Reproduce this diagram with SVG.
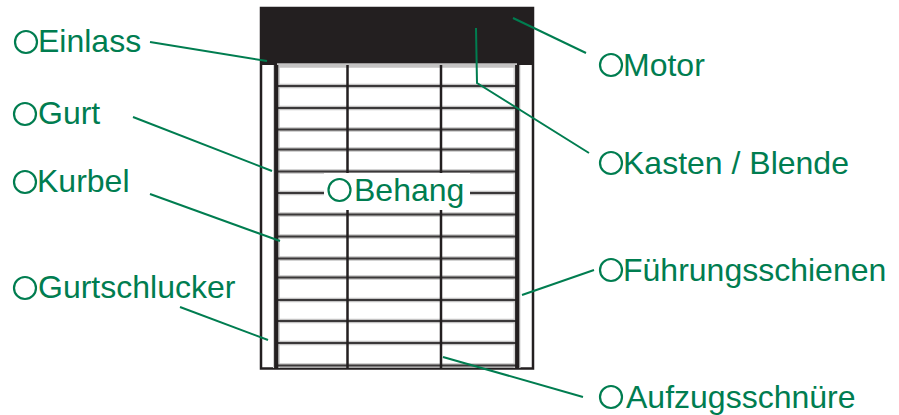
<svg xmlns="http://www.w3.org/2000/svg" width="899" height="415" viewBox="0 0 899 415">
<style>
.t{font-family:"Liberation Sans",Arial,sans-serif;font-size:32px;fill:#007d50}
.c{fill:none;stroke:#007d50;stroke-width:2.2}
.l{fill:none;stroke:#007d50;stroke-width:2}
.s{stroke:#231f20;fill:none}
.h{stroke:#3a3839;stroke-width:2;fill:none}
.hb{stroke:#c4c3c3;stroke-width:4.500;fill:none}
</style>
<rect width="899" height="415" fill="#fff"/>
<g id="frame">
<rect x="261" y="8" width="272" height="360.500" fill="#fff" stroke="#231f20" stroke-width="2.500"/>
<rect x="260" y="7" width="274" height="58" fill="#231f20"/>
<path stroke="#d4d4d4" stroke-width="7" d="M276.500 65V368M517 65V368" fill="none"/>
<g id="slats">
<path class="hb" d="M277 86H517M277 108H517M277 129.500H517M277 149.500H517M277 171.500H517M277 193H517M277 214.500H517M277 236.500H517M277 258.500H517M277 277.500H517M277 300H517M277 321H517M277 343H517M277 365.500H517"/>
<path class="hb" stroke-width="3" d="M277 65.500H517"/>
<path class="h" d="M277 86H517M277 108H517M277 129.500H517M277 149.500H517M277 171.500H517M277 193H517M277 214.500H517M277 236.500H517M277 258.500H517M277 277.500H517M277 300H517M277 321H517M277 343H517M277 365.500H517"/>
</g>
<path class="s" stroke-width="4.200" d="M276.200 65V368M517.200 65V368"/>
<path class="s" stroke-width="2.500" d="M347.500 65V368M441 65V368"/>
</g>
<rect x="324" y="173" width="146" height="37" fill="#fff"/>
<g id="connectors">
<path class="l" d="M150 42L267 61"/>
<path class="l" d="M133 117L272 171"/>
<path class="l" d="M150 194L280 241"/>
<path class="l" d="M180 307L268 340"/>
<path class="l" d="M513 18L586 53"/>
<path class="l" d="M476 28L477 83L589 153"/>
<path class="l" d="M522 295L594 270"/>
<path class="l" d="M443 357L583 397"/>
</g>
<g id="einlass"><circle class="c" cx="26" cy="42" r="11"/><text class="t" x="38" y="52">Einlass</text></g>
<g id="gurt"><circle class="c" cx="25" cy="114" r="11"/><text class="t" x="38" y="123.500">Gurt</text></g>
<g id="kurbel"><circle class="c" cx="25" cy="182" r="11"/><text class="t" x="37" y="192">Kurbel</text></g>
<g id="gurtschlucker"><circle class="c" cx="25" cy="288" r="11"/><text class="t" x="38" y="298">Gurtschlucker</text></g>
<g id="behang"><circle class="c" cx="339.500" cy="190" r="11"/><text class="t" x="354" y="200.500">Behang</text></g>
<g id="motor"><circle class="c" cx="611" cy="65" r="11"/><text class="t" x="623" y="76">Motor</text></g>
<g id="kasten"><circle class="c" cx="611" cy="163" r="11"/><text class="t" x="623" y="173.500">Kasten / Blende</text></g>
<g id="fuehrung"><circle class="c" cx="611" cy="270" r="11"/><text class="t" x="623" y="281">Führungsschienen</text></g>
<g id="aufzug"><circle class="c" cx="611" cy="397" r="11"/><text class="t" x="626" y="408">Aufzugsschnüre</text></g>
</svg>
